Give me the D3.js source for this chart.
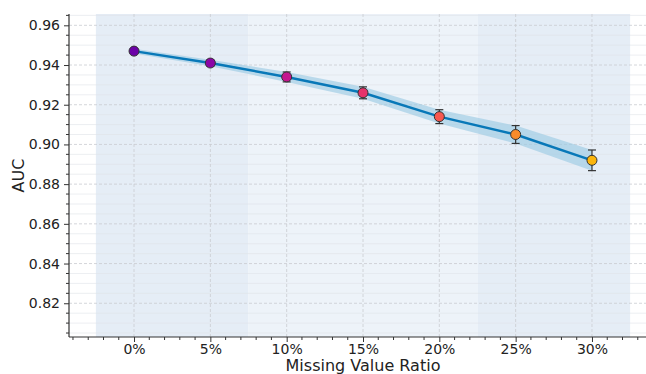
<!DOCTYPE html>
<html>
<head>
<meta charset="utf-8">
<script src="https://cdn.jsdelivr.net/npm/d3@7"></script>
<style>
  body { margin: 0; background: #fff; }
  svg { display: block; font-family: "DejaVu Sans", sans-serif; }
</style>
</head>
<body>
<div id="chart"></div>
<script>
// data
var ratios = [0, 5, 10, 15, 20, 25, 30];
var tickLabels = ["0%", "5%", "10%", "15%", "20%", "25%", "30%"];
var auc = [0.947, 0.941, 0.934, 0.926, 0.914, 0.905, 0.892];
var aucStd = [0.0012, 0.0016, 0.0025, 0.003, 0.0035, 0.0045, 0.0052];
var yTicks = [0.82, 0.84, 0.86, 0.88, 0.90, 0.92, 0.94, 0.96];
// marker colours (plasma-like)
var markerColors = ["#6c02a8", "#8b05a6", "#c4178f", "#e5336b", "#f7574f", "#f98b2a", "#fbb50c"];
// shaded regions [from, to]
var spans = [[-2.5, 7.5, "#e5edf6"], [7.5, 22.5, "#edf3f9"], [22.5, 32.5, "#e5edf6"]];

var width = 646, height = 374;
var margin = {left: 69, top: 14, bottom: 37};

var svg = d3.select("#chart").append("svg")
  .attr("width", width).attr("height", height);

var x = d3.scaleLinear().domain([-4.26, 34.26]).range([margin.left, 657]);
var y = d3.scaleLinear().domain([0.803, 0.9657]).range([height - margin.bottom, margin.top]);

var plotTop = margin.top, plotBottom = height - margin.bottom;

// background spans
svg.selectAll(".span").data(spans).enter().append("rect")
  .attr("x", function(d) { return x(d[0]); })
  .attr("width", function(d) { return x(d[1]) - x(d[0]); })
  .attr("y", plotTop).attr("height", plotBottom - plotTop)
  .attr("fill", function(d) { return d[2]; });

// minor horizontal grid
var minorY = d3.range(0.805, 0.966, 0.005).filter(function(v) {
  return Math.abs(Math.round(v * 50) - v * 50) > 0.01;
});
svg.selectAll(".minor-grid").data(minorY).enter().append("line")
  .attr("x1", margin.left).attr("x2", width)
  .attr("y1", function(d) { return y(d); }).attr("y2", function(d) { return y(d); })
  .attr("stroke", "#dfe3e8").attr("stroke-width", 0.6);

// major grid, dashed
svg.selectAll(".grid-y").data(yTicks).enter().append("line")
  .attr("x1", margin.left).attr("x2", width)
  .attr("y1", function(d) { return y(d); }).attr("y2", function(d) { return y(d); })
  .attr("stroke", "#c9ccd0").attr("stroke-width", 0.8).attr("stroke-dasharray", "3,2");
svg.selectAll(".grid-x").data(ratios).enter().append("line")
  .attr("y1", plotTop).attr("y2", plotBottom)
  .attr("x1", function(d) { return x(d); }).attr("x2", function(d) { return x(d); })
  .attr("stroke", "#c9ccd0").attr("stroke-width", 0.8).attr("stroke-dasharray", "3,2");

// confidence band
var area = d3.area()
  .x(function(d, i) { return x(ratios[i]); })
  .y0(function(d, i) { return y(auc[i] - aucStd[i]); })
  .y1(function(d, i) { return y(auc[i] + aucStd[i]); });
svg.append("path").datum(auc)
  .attr("d", area)
  .attr("fill", "#9ccbe3").attr("opacity", 0.65);

// main line
var line = d3.line()
  .x(function(d, i) { return x(ratios[i]); })
  .y(function(d) { return y(d); });
svg.append("path").datum(auc)
  .attr("d", line)
  .attr("fill", "none").attr("stroke", "#0878b8").attr("stroke-width", 2.5);

// error bars
var eb = svg.selectAll(".eb").data(auc).enter().append("g");
eb.append("line")
  .attr("x1", function(d, i) { return x(ratios[i]); })
  .attr("x2", function(d, i) { return x(ratios[i]); })
  .attr("y1", function(d, i) { return y(d - aucStd[i]); })
  .attr("y2", function(d, i) { return y(d + aucStd[i]); })
  .attr("stroke", "#333").attr("stroke-width", 1.2);
[-1, 1].forEach(function(s) {
  eb.append("line")
    .attr("x1", function(d, i) { return x(ratios[i]) - 4; })
    .attr("x2", function(d, i) { return x(ratios[i]) + 4; })
    .attr("y1", function(d, i) { return y(d + s * aucStd[i]); })
    .attr("y2", function(d, i) { return y(d + s * aucStd[i]); })
    .attr("stroke", "#333").attr("stroke-width", 1.2);
});

// markers
svg.selectAll(".pt").data(auc).enter().append("circle")
  .attr("cx", function(d, i) { return x(ratios[i]); })
  .attr("cy", function(d) { return y(d); })
  .attr("r", 5)
  .attr("fill", function(d, i) { return markerColors[i]; })
  .attr("stroke", "#333").attr("stroke-width", 1);

// axes
var xAxis = d3.axisBottom(x).tickValues(ratios)
  .tickFormat(function(d, i) { return tickLabels[i]; })
  .tickSize(5).tickPadding(2);
var gx = svg.append("g").attr("transform", "translate(0," + plotBottom + ")").call(xAxis);
var xMinor = d3.range(-4, 35, 1).filter(function(v) { return v % 5 !== 0; });
gx.selectAll(".minor").data(xMinor).enter().append("line")
  .attr("x1", function(d) { return x(d); }).attr("x2", function(d) { return x(d); })
  .attr("y1", 0).attr("y2", 3).attr("stroke", "#333");

var yAxis = d3.axisLeft(y).tickValues(yTicks)
  .tickFormat(d3.format(".2f")).tickSize(5).tickPadding(4);
var gy = svg.append("g").attr("transform", "translate(" + margin.left + ",0)").call(yAxis);
gy.selectAll(".minor").data(minorY).enter().append("line")
  .attr("x1", 0).attr("x2", -3)
  .attr("y1", function(d) { return y(d); }).attr("y2", function(d) { return y(d); })
  .attr("stroke", "#333");

[gx, gy].forEach(function(g) {
  g.select(".domain").attr("stroke", "#333").attr("stroke-width", 1.2);
  g.selectAll(".tick line").attr("stroke", "#333");
  g.selectAll(".tick text").attr("font-size", 14).attr("fill", "#222")
    .attr("font-family", "DejaVu Sans, sans-serif");
});
gx.select(".domain").attr("d", "M" + margin.left + ",0H" + width);
gy.select(".domain").attr("d", "M0," + plotTop + "V" + plotBottom);

// labels
svg.append("text")
  .attr("transform", "translate(24," + ((plotTop + plotBottom) / 2) + ") rotate(-90)")
  .attr("text-anchor", "middle")
  .attr("font-size", 16).attr("fill", "#222")
  .text("AUC");
svg.append("text")
  .attr("x", x(15)).attr("y", 371)
  .attr("text-anchor", "middle")
  .attr("font-size", 16).attr("fill", "#222")
  .text("Missing Value Ratio");
</script>
</body>
</html>
